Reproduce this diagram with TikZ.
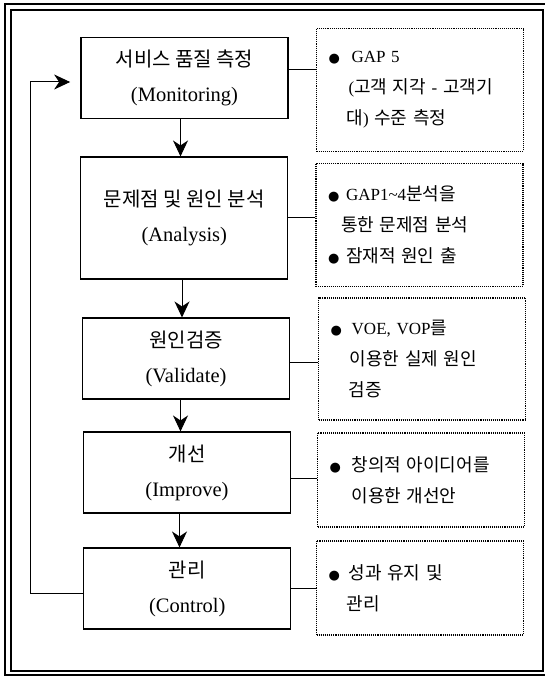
\documentclass[tikz,border=0pt]{standalone}
\usepackage{fontspec}
\setmainfont{Liberation Serif}
\newfontfamily\krfont{Noto Sans CJK KR}
\newfontfamily\symfont{DejaVu Sans}
\newcommand{\kr}[1]{{\krfont\fontsize{20}{35}\selectfont #1}}
\newcommand{\kn}[1]{{\krfont\fontsize{18}{31}\selectfont #1}}
\newcommand{\bul}[1][22pt]{\makebox[#1][l]{{\symfont\fontsize{13}{13}\selectfont ●}}}
\usetikzlibrary{arrows.meta}
\tikzset{stage/.style = {draw, line width=1.1pt, minimum width=207pt, align=center, inner sep=0pt, font=\fontsize{20.5}{35}\selectfont}}
\tikzset{note/.style = {draw, densely dotted, line width=1.1pt, minimum width=207pt, text width=183pt, inner xsep=12pt, inner ysep=0pt, align=left, font=\fontsize{17}{31}\selectfont}}
\tikzset{flow/.style = {-{Stealth[length=16pt, width=15pt, inset=5pt]}, line width=1pt}}
\tikzset{link/.style = {line width=1pt}}

\begin{document}
\begin{tikzpicture}[x=1pt, y=-1pt]
\useasboundingbox (0,0) rectangle (544,676);
% frame
\draw[line width=1.8pt] (5,4) rectangle (549,675);
\draw[line width=1.5pt] (11,10) rectangle (543,671);
% steps
\node[stage, minimum height=81pt] (mon) at (184.5,78.4) {\kr{서비스 품질 측정}\\(Monitoring)};
\node[stage, minimum height=122pt] (ana) at (184.3,218) {\kr{문제점 및 원인 분석}\\(Analysis)};
\node[stage, minimum height=81pt] (val) at (186,358.5) {\kr{원인검증}\\(Validate)};
\node[stage, minimum height=81pt] (imp) at (187,472.5) {\kr{개선}\\(Improve)};
\node[stage, minimum height=81pt] (ctl) at (187.3,588.5) {\kr{관리}\\(Control)};
% notes
\node[note, minimum height=123pt] (gap5) at (420,89.7) {\bul[23pt]GAP 5\\ \hspace*{20pt}(\kn{고객 지각} - \kn{고객기}\\ \hspace*{18pt}\kn{대}) \kn{수준 측정}};
\node[note, minimum height=123pt] (gaps) at (419.5,224.7) {\bul[18pt]GAP1\textasciitilde4\kn{분석을}\\ \hspace*{13pt}\kn{통한 문제점 분석}\\ \bul[18pt]\kn{잠재적 원인 출}};
\node[note, minimum height=122pt] (voe) at (422.2,359) {\bul[21pt]VOE, VOP\kn{를}\\ \hspace*{19pt}\kn{이용한 실제 원인}\\ \hspace*{18pt}\kn{검증}};
\node[note, minimum height=94pt] (idea) at (421,480) {\bul\kn{창의적 아이디어를}\\ \hspace*{22pt}\kn{이용한 개선안}};
\node[note, minimum height=94pt] (keep) at (420,588) {\bul[20pt]\kn{성과 유지 및}\\ \hspace*{18pt}\kn{관리}};
% links to notes
\draw[link] ([yshift=8.4pt]mon.east) -- ([yshift=8.4pt]mon.east -| gap5.west);
\draw[link] ([yshift=1pt]ana.east) -- ([yshift=1pt]ana.east -| gaps.west);
\draw[link] ([yshift=-3.5pt]val.east) -- ([yshift=-3.5pt]val.east -| voe.west);
\draw[link] ([yshift=-5.5pt]imp.east) -- ([yshift=-5.5pt]imp.east -| idea.west);
\draw[link] (ctl.east) -- (ctl.east -| keep.west);
% flow down
\draw[flow] ([xshift=-4pt]mon.south) -- ([xshift=-4pt]mon.south |- ana.north);
\draw[flow] ([xshift=-2.3pt]ana.south) -- ([xshift=-2.3pt]ana.south |- val.north);
\draw[flow] ([xshift=-5.5pt]val.south) -- ([xshift=-5.5pt]val.south |- imp.north);
\draw[flow] ([xshift=-7.5pt]imp.south) -- ([xshift=-7.5pt]imp.south |- ctl.north);
% feedback
\coordinate (turn) at (30,82);
\draw[flow] ([yshift=-4.5pt]ctl.west) -| (turn) -- ([xshift=-10.3pt,yshift=-3.6pt]mon.west);
\end{tikzpicture}
\end{document}
